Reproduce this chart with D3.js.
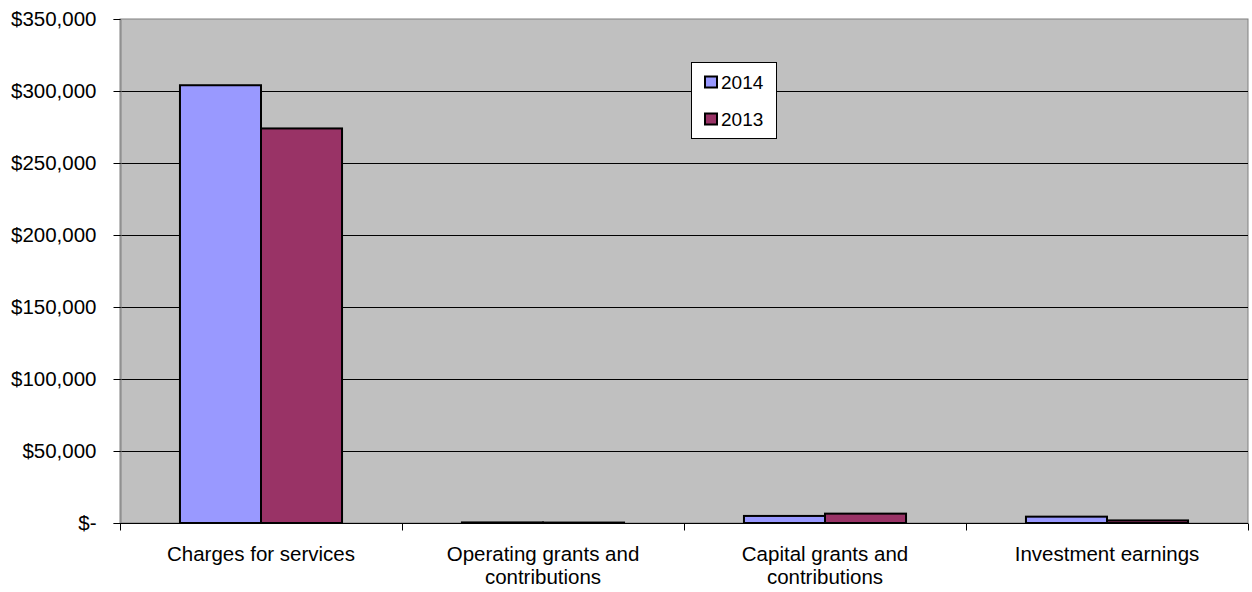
<!DOCTYPE html>
<html>
<head>
<meta charset="utf-8">
<script src="https://cdn.jsdelivr.net/npm/d3@7"></script>
<style>
  html, body { margin: 0; padding: 0; background: #fff; }
  svg { display: block; font-family: Arial, "Liberation Sans", sans-serif; }
</style>
</head>
<body>
<svg id="chart" width="1252" height="592"></svg>
<script>
const categories = [
  ["Charges for services"],
  ["Operating grants and", "contributions"],
  ["Capital grants and", "contributions"],
  ["Investment earnings"]
];
const seriesNames = ["2014", "2013"];
const values2014 = [304000, 400, 4900, 4400];
const values2013 = [274000, 300, 6500, 1800];
const yTicks = [0, 50000, 100000, 150000, 200000, 250000, 300000, 350000];
const colors = ["#9999FF", "#993366"];

(function () {
const svg = d3.select("#chart");
const pLeft = 120, pRight = 1248, pTop = 19, pBottom = 523;

const catKeys = categories.map((c, i) => i);
const x0 = d3.scaleBand().domain(catKeys).range([pLeft, pRight]).padding(0);
const x1 = d3.scaleBand().domain(seriesNames)
  .range([0, x0.bandwidth()]).paddingOuter(0.74).paddingInner(0);
const y = d3.scaleLinear().domain([0, 350000]).range([pBottom, pTop]);

// plot background
svg.append("rect").attr("x", pLeft).attr("y", pTop)
  .attr("width", pRight - pLeft).attr("height", pBottom - pTop)
  .attr("fill", "#C0C0C0").attr("stroke", "#808080").attr("stroke-width", 1);

// gridlines
svg.append("g").selectAll("line").data(yTicks.filter(d => d > 0 && d < 350000))
  .join("line")
  .attr("x1", pLeft).attr("x2", pRight)
  .attr("y1", d => Math.round(y(d)) + 0.5).attr("y2", d => Math.round(y(d)) + 0.5)
  .attr("stroke", "#000").attr("stroke-width", 1);

// y axis
const fmt = d => d === 0 ? "$-" : "$" + d3.format(",")(d);
const yAxis = d3.axisLeft(y).tickValues(yTicks).tickFormat(fmt).tickSize(7).tickPadding(17);
const gy = svg.append("g").attr("transform", `translate(${pLeft + 0.5},0)`).call(yAxis);
gy.select(".domain").attr("stroke", "#808080");
gy.selectAll(".tick line").attr("stroke", "#000");
gy.selectAll(".tick text").attr("font-size", "20.5px").attr("fill", "#000")
  .attr("font-family", "Arial, 'Liberation Sans', sans-serif");

// bars
const data = [values2014, values2013];
const groups = svg.append("g").selectAll("g").data(catKeys).join("g")
  .attr("transform", d => `translate(${x0(d)},0)`);
groups.selectAll("rect")
  .data(i => seriesNames.map((s, k) => ({ s, k, v: data[k][i] })))
  .join("rect")
  .attr("x", d => x1(d.s))
  .attr("width", x1.bandwidth())
  .attr("y", d => y(d.v))
  .attr("height", d => pBottom - y(d.v))
  .attr("fill", d => colors[d.k])
  .attr("stroke", "#000").attr("stroke-width", 2);

// x axis
const xAxisScale = d3.scaleLinear().domain([0, categories.length]).range([pLeft, pRight]);
const gx = svg.append("g").attr("transform", `translate(0,${pBottom + 0.5})`);
gx.append("line").attr("x1", pLeft).attr("x2", pRight).attr("stroke", "#000").attr("stroke-width", 1);
gx.selectAll("line.t").data(d3.range(categories.length + 1)).join("line")
  .attr("class", "t")
  .attr("x1", d => Math.round(xAxisScale(d)) + 0.5).attr("x2", d => Math.round(xAxisScale(d)) + 0.5)
  .attr("y1", 0).attr("y2", 7).attr("stroke", "#000");

const labels = svg.append("g").selectAll("text").data(catKeys).join("text")
  .attr("x", d => x0(d) + x0.bandwidth() / 2)
  .attr("y", 561)
  .attr("text-anchor", "middle")
  .attr("font-size", "20.5px")
  .attr("fill", "#000");
labels.each(function(d) {
  const t = d3.select(this);
  categories[d].forEach((line, i) => {
    t.append("tspan").attr("x", x0(d) + x0.bandwidth() / 2).attr("dy", i === 0 ? 0 : 22.5).text(line);
  });
});

// legend
const lg = svg.append("g");
lg.append("rect").attr("x", 691.5).attr("y", 62.5).attr("width", 85).attr("height", 76)
  .attr("fill", "#fff").attr("stroke", "#000").attr("stroke-width", 1);
seriesNames.forEach((s, k) => {
  const cy = 82 + k * 37;
  lg.append("rect").attr("x", 705).attr("y", cy - 5.5).attr("width", 12).attr("height", 11)
    .attr("fill", colors[k]).attr("stroke", "#000").attr("stroke-width", 2);
  lg.append("text").attr("x", 721).attr("y", cy).attr("dy", "0.35em")
    .attr("font-size", "19px").attr("fill", "#000").text(s);
});
})();
</script>
</body>
</html>
